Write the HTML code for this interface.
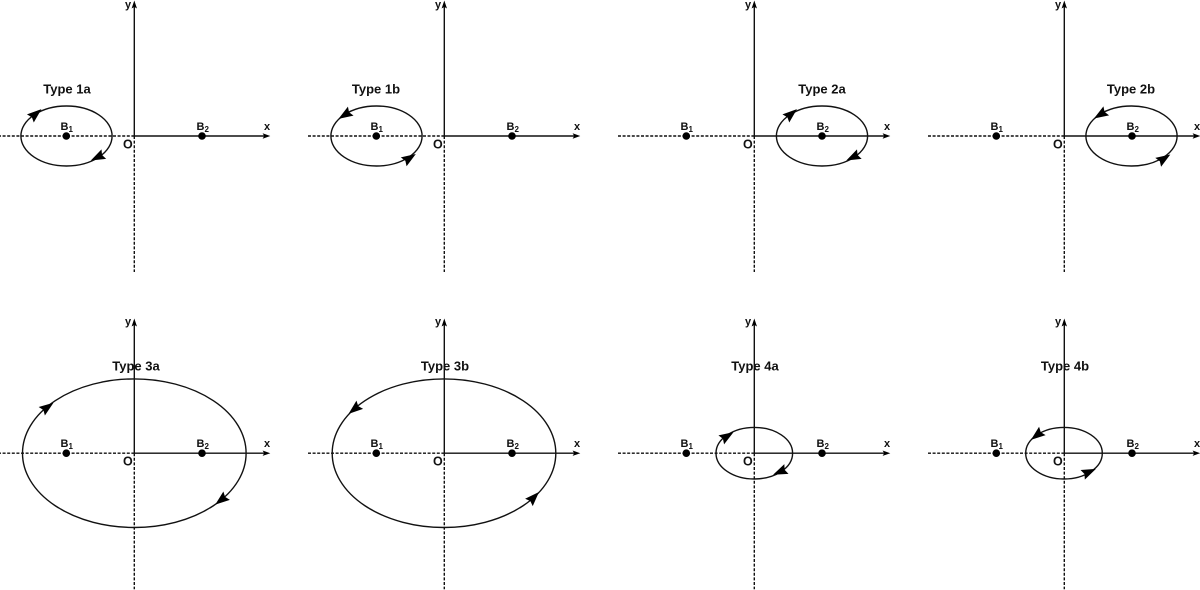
<!DOCTYPE html>
<html>
<head>
<meta charset="utf-8">
<style>
html,body{margin:0;padding:0;background:#fff;width:1200px;height:590px;overflow:hidden}
svg{display:block;filter:blur(.35px)}
text{font-family:"Liberation Sans",sans-serif;font-weight:bold;fill:#111}
.t{font-size:13px;text-anchor:middle}
.l{font-size:11px}
.o{font-size:12.5px}
.s{font-size:8px}
.a{stroke:#111;stroke-width:1.4;fill:none}
.d{stroke:#111;stroke-width:1.4;fill:none;stroke-dasharray:3 1.6}
.e{stroke:#111;stroke-width:1.4;fill:none}
.h{fill:#000}
</style>
</head>
<body>
<svg width="1200" height="590" viewBox="0 0 1200 590" xmlns="http://www.w3.org/2000/svg">
<defs>
<g id="ax">
<path class="d" d="M-2 136H134.3M134.3 136V272"/>
<path class="a" d="M134.3 136H265M134.3 136V4"/>
<path class="h" d="M270.3 136L262.6 133.3L264.2 136L262.6 138.7Z"/>
<circle cx="66.3" cy="136" r="3.8" fill="#000"/>
<circle cx="202" cy="136" r="3.8" fill="#000"/>
</g>
<path id="ya" class="h" d="M134.3 0L131.6 8L134.3 6.4L137 8Z"/>
<path id="ah" class="h" d="M1 0L-13.5 -5.3L-11.5 0L-13.5 5.3Z"/>
</defs>

<use href="#ax" x="0" y="0"/><use href="#ax" x="310" y="0"/><use href="#ax" x="620" y="0"/><use href="#ax" x="930" y="0"/>
<use href="#ax" x="0" y="317.2"/><use href="#ax" x="310" y="317.2"/><use href="#ax" x="620" y="317.2"/><use href="#ax" x="930" y="317.2"/>
<use href="#ya" x="0" y="0.5"/><use href="#ya" x="310" y="0.5"/><use href="#ya" x="620" y="0.5"/><use href="#ya" x="930" y="0.5"/>
<use href="#ya" x="0" y="318.5"/><use href="#ya" x="310" y="318.5"/><use href="#ya" x="620" y="318.5"/><use href="#ya" x="930" y="318.5"/>

<!-- axis labels, top row -->
<g>
<text class="l" x="125" y="8">y</text><text class="l" x="264" y="130">x</text><text class="o" x="123" y="148.5">O</text>
<text class="l" x="60.5" y="130">B<tspan class="s" dy="2">1</tspan></text><text class="l" x="196.5" y="130">B<tspan class="s" dy="2">2</tspan></text>
</g>
<g transform="translate(310,0)">
<text class="l" x="125" y="8">y</text><text class="l" x="264" y="130">x</text><text class="o" x="123" y="148.5">O</text>
<text class="l" x="60.5" y="130">B<tspan class="s" dy="2">1</tspan></text><text class="l" x="196.5" y="130">B<tspan class="s" dy="2">2</tspan></text>
</g>
<g transform="translate(620,0)">
<text class="l" x="125" y="8">y</text><text class="l" x="264" y="130">x</text><text class="o" x="123" y="148.5">O</text>
<text class="l" x="60.5" y="130">B<tspan class="s" dy="2">1</tspan></text><text class="l" x="196.5" y="130">B<tspan class="s" dy="2">2</tspan></text>
</g>
<g transform="translate(930,0)">
<text class="l" x="125" y="8">y</text><text class="l" x="264" y="130">x</text><text class="o" x="123" y="148.5">O</text>
<text class="l" x="60.5" y="130">B<tspan class="s" dy="2">1</tspan></text><text class="l" x="196.5" y="130">B<tspan class="s" dy="2">2</tspan></text>
</g>
<!-- axis labels, bottom row -->
<g transform="translate(0,317)">
<text class="l" x="125" y="8">y</text><text class="l" x="264" y="130">x</text><text class="o" x="123" y="148.5">O</text>
<text class="l" x="60.5" y="130">B<tspan class="s" dy="2">1</tspan></text><text class="l" x="196.5" y="130">B<tspan class="s" dy="2">2</tspan></text>
</g>
<g transform="translate(310,317)">
<text class="l" x="125" y="8">y</text><text class="l" x="264" y="130">x</text><text class="o" x="123" y="148.5">O</text>
<text class="l" x="60.5" y="130">B<tspan class="s" dy="2">1</tspan></text><text class="l" x="196.5" y="130">B<tspan class="s" dy="2">2</tspan></text>
</g>
<g transform="translate(620,317)">
<text class="l" x="125" y="8">y</text><text class="l" x="264" y="130">x</text><text class="o" x="123" y="148.5">O</text>
<text class="l" x="60.5" y="130">B<tspan class="s" dy="2">1</tspan></text><text class="l" x="196.5" y="130">B<tspan class="s" dy="2">2</tspan></text>
</g>
<g transform="translate(930,317)">
<text class="l" x="125" y="8">y</text><text class="l" x="264" y="130">x</text><text class="o" x="123" y="148.5">O</text>
<text class="l" x="60.5" y="130">B<tspan class="s" dy="2">1</tspan></text><text class="l" x="196.5" y="130">B<tspan class="s" dy="2">2</tspan></text>
</g>

<!-- titles -->
<text class="t" x="67" y="93.5">Type 1a</text>
<text class="t" x="376" y="93.5">Type 1b</text>
<text class="t" x="822" y="93.5">Type 2a</text>
<text class="t" x="1131" y="93.5">Type 2b</text>
<text class="t" x="136" y="370.5">Type 3a</text>
<text class="t" x="445" y="370.5">Type 3b</text>
<text class="t" x="755" y="370.5">Type 4a</text>
<text class="t" x="1065" y="370.5">Type 4b</text>

<!-- ellipses -->
<ellipse class="e" cx="66.5" cy="136" rx="45.6" ry="30"/>
<ellipse class="e" cx="376.5" cy="136" rx="45.6" ry="30"/>
<ellipse class="e" cx="822" cy="136" rx="45.6" ry="30"/>
<ellipse class="e" cx="1131.5" cy="136" rx="45.6" ry="30"/>
<ellipse class="e" cx="134.3" cy="453.2" rx="111.8" ry="74.3"/>
<ellipse class="e" cx="444" cy="453.2" rx="111.8" ry="74.3"/>
<ellipse class="e" cx="754.3" cy="453.2" rx="38.3" ry="25.8"/>
<ellipse class="e" cx="1064" cy="453.2" rx="38.3" ry="25.8"/>

<!-- arrowheads -->
<use href="#ah" transform="translate(40.7,109.8) rotate(-40)"/>
<use href="#ah" transform="translate(91.7,160) rotate(154)"/>
<use href="#ah" transform="translate(339.3,118.3) rotate(148)"/>
<use href="#ah" transform="translate(415,154.5) rotate(-33)"/>
<use href="#ah" transform="translate(796.2,109.8) rotate(-40)"/>
<use href="#ah" transform="translate(847.2,160) rotate(154)"/>
<use href="#ah" transform="translate(1094.8,118) rotate(148)"/>
<use href="#ah" transform="translate(1169.5,155) rotate(-33)"/>
<use href="#ah" transform="translate(52.7,403.3) rotate(-36)"/>
<use href="#ah" transform="translate(216,504) rotate(142)"/>
<use href="#ah" transform="translate(349.3,413.3) rotate(141)"/>
<use href="#ah" transform="translate(538.3,492.7) rotate(-46)"/>
<use href="#ah" transform="translate(732.7,432.7) rotate(-32)"/>
<use href="#ah" transform="translate(774,474.3) rotate(157)"/>
<use href="#ah" transform="translate(1031.7,439.3) rotate(142)"/>
<use href="#ah" transform="translate(1095,469.3) rotate(-24)"/>
</svg>
</body>
</html>
